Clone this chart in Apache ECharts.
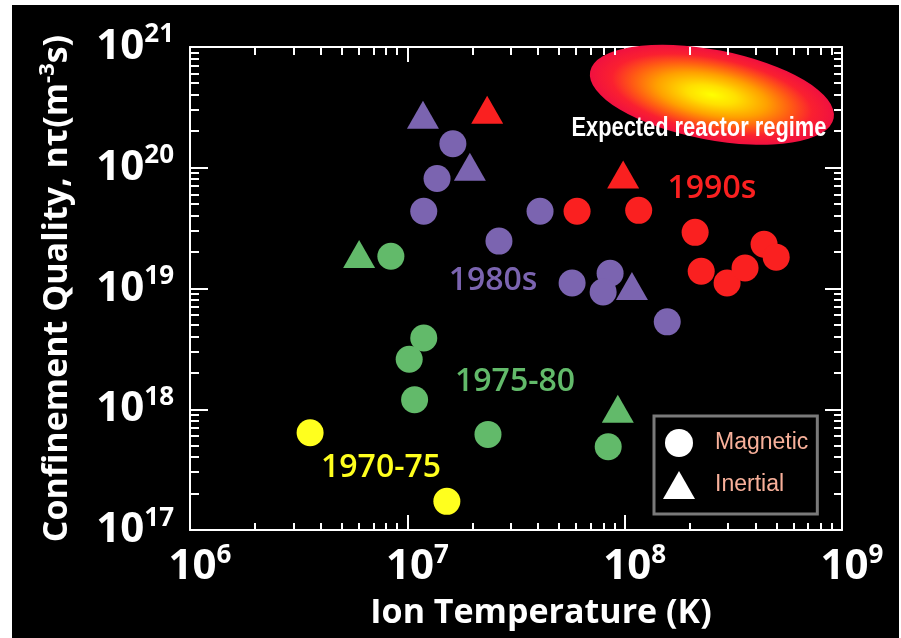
<!DOCTYPE html>
<html><head><meta charset="utf-8">
<script src="https://cdn.jsdelivr.net/npm/echarts@6.0.0/dist/echarts.min.js"></script>
<style>html,body{margin:0;padding:0;background:#fff;overflow:hidden}#c{position:absolute;left:12px;top:5px;width:887px;height:633px}</style>
</head><body><div id="c"></div>
<script>
// ---- data ----
const xTickExponents = [6, 7, 8, 9];
const yTickExponents = [17, 18, 19, 20, 21];
const eras = ['1970-75', '1975-80', '1980s', '1990s'];
// [ion temperature (K), confinement quality nτ (m^-3 s)]
const magnetic1970 = [[3.57e6, 6.4e17], [1.52e7, 1.73e17]];
const inertial1970 = [];
const magnetic1975 = [[8.4e6, 1.85e19], [1.19e7, 3.9e18], [1.02e7, 2.6e18], [1.08e7, 1.2e18], [2.35e7, 6.2e17], [8.4e7, 4.9e17]];
const inertial1975 = [[6.0e6, 1.93e19], [9.3e7, 1.01e18]];
const magnetic1980 = [[1.62e7, 1.58e20], [1.37e7, 8.15e19], [1.19e7, 4.36e19], [4.08e7, 4.36e19], [2.64e7, 2.47e19], [5.73e7, 1.11e19], [8.57e7, 1.34e19], [7.96e7, 9.35e18], [1.57e8, 5.3e18]];
const inertial1980 = [[1.18e7, 2.75e20], [1.94e7, 1.02e20], [1.08e8, 1.05e19]];
const magnetic1990 = [[6.04e7, 4.36e19], [1.16e8, 4.44e19], [2.11e8, 2.92e19], [2.25e8, 1.39e19], [2.96e8, 1.11e19], [3.58e8, 1.48e19], [4.38e8, 2.33e19], [4.98e8, 1.82e19]];
const inertial1990 = [[2.33e7, 3.02e20], [9.84e7, 8.8e19]];
const eraLabelPoints = [[7.57e6, 3.25e17], [3.13e7, 1.69e18], [2.48e7, 1.15e19], [2.52e8, 6.74e19]];
const reactorRegimeCenter = [2.52e8, 4.02e20];
const reactorRegimeText = 'Expected reactor regime';

// ---- styles ----
const eraColors = ['#ffff1e', '#62ba6a', '#7b64b0', '#fa2020'];
const magneticByEra = [magnetic1970, magnetic1975, magnetic1980, magnetic1990];
const inertialByEra = [inertial1970, inertial1975, inertial1980, inertial1990];
const FONT = "'Open Sans', 'DejaVu Sans', sans-serif";
const NARROW = "'Liberation Sans', 'DejaVu Sans', sans-serif";

function colored(groups) {
  const out = [];
  groups.forEach((arr, i) => arr.forEach(p => out.push({ value: p, itemStyle: { color: eraColors[i] } })));
  return out;
}
function minorValues(exps) {
  const out = [];
  for (let e = exps[0]; e < exps[exps.length - 1]; e++)
    for (let k = 2; k <= 9; k++) out.push(k * Math.pow(10, e));
  return out;
}
const xMin = Math.pow(10, xTickExponents[0]), xMax = Math.pow(10, xTickExponents[xTickExponents.length - 1]);
const yMin = Math.pow(10, yTickExponents[0]), yMax = Math.pow(10, yTickExponents[yTickExponents.length - 1]);

const supLabel = (exps) => (v) => {
  const e = Math.round(Math.log10(v));
  return exps.indexOf(e) >= 0 ? '{b|10}{s|' + e + '}' : '';
};
const labelRich = {
  b: { fontSize: 42, fontWeight: 'bold', fontFamily: FONT, color: '#fff', lineHeight: 50 },
  s: { fontSize: 26, fontWeight: 'bold', fontFamily: FONT, color: '#fff', lineHeight: 26, verticalAlign: 'top' }
};
const white = { color: '#fff', width: 2 };
const tickLine = (x1, y1, x2, y2) => ({ type: 'line', shape: { x1, y1, x2, y2 }, style: { stroke: '#fff', lineWidth: 2 } });

const chart = echarts.init(document.getElementById('c'), null, { renderer: 'canvas' });
chart.setOption({
  animation: false,
  backgroundColor: '#000',
  grid: { left: 178, top: 42, right: 57, bottom: 106 },
  legend: {
    orient: 'vertical', left: 642, top: 411,
    padding: [13, 9, 15, 9], itemWidth: 32, itemHeight: 28, itemGap: 14,
    borderColor: '#7a7a7a', borderWidth: 3,
    textStyle: { color: '#f8b09a', fontSize: 23, fontFamily: NARROW, padding: [0, 0, 0, 15] },
    data: [
      { name: 'Magnetic', icon: 'circle', itemStyle: { color: '#fff' } },
      { name: 'Inertial', icon: 'triangle', itemStyle: { color: '#fff' } }
    ]
  },
  xAxis: [
    { type: 'log', logBase: 10, min: xMin, max: xMax, position: 'bottom',
      name: 'Ion Temperature (K)', nameLocation: 'middle', nameGap: 62,
      nameTextStyle: { color: '#fff', fontSize: 34, fontWeight: 'bold', fontFamily: FONT, lineHeight: 40, padding: [0, 0, 0, 50] },
      axisLine: { onZero: false, lineStyle: white },
      axisTick: { inside: true, length: 15, lineStyle: white },
      axisLabel: { margin: 12, formatter: supLabel(xTickExponents), rich: labelRich, align: 'center', padding: [0, 0, 0, 20] },
      splitLine: { show: false } },
    { type: 'log', logBase: 10, min: xMin, max: xMax, position: 'top',
      axisLine: { onZero: false, lineStyle: white },
      axisTick: { inside: true, length: 15, lineStyle: white },
      axisLabel: { show: false }, splitLine: { show: false } }
  ],
  yAxis: [
    { type: 'log', logBase: 10, min: yMin, max: yMax, position: 'left',
      name: 'Confinement Quality, nτ(m{sup|-3}s)', nameLocation: 'middle', nameRotate: 90, nameGap: 113,
      nameTextStyle: { color: '#fff', fontSize: 34, fontWeight: 'bold', fontFamily: FONT, lineHeight: 40,
        rich: { sup: { color: '#fff', fontSize: 22, fontWeight: 'bold', fontFamily: FONT, lineHeight: 22, verticalAlign: 'top' } } },
      axisLine: { onZero: false, lineStyle: white },
      axisTick: { inside: true, length: 18, lineStyle: white },
      axisLabel: { margin: 16, formatter: supLabel(yTickExponents), rich: labelRich },
      splitLine: { show: false } },
    { type: 'log', logBase: 10, min: yMin, max: yMax, position: 'right',
      axisLine: { onZero: false, lineStyle: white },
      axisTick: { inside: true, length: 17, lineStyle: white },
      axisLabel: { show: false }, splitLine: { show: false } }
  ],
  series: [
    { type: 'custom', name: 'regime', z: 1, silent: true,
      data: [reactorRegimeCenter],
      renderItem: (params, api) => {
        const p = api.coord([api.value(0), api.value(1)]);
        return { type: 'group', children: [
          { type: 'circle', shape: { cx: 0, cy: 0, r: 45 }, x: p[0], y: p[1], scaleX: 124 / 45, rotation: -0.19,
            style: { fill: new echarts.graphic.RadialGradient(0.5, 0.5, 0.5, [
              { offset: 0, color: '#ffff00' }, { offset: 0.2, color: '#ffe000' },
              { offset: 0.45, color: '#ffa000' }, { offset: 0.65, color: '#ff5a14' },
              { offset: 0.82, color: '#fa2030' }, { offset: 1, color: '#f01040' }]) } },
          { type: 'text', x: p[0] - 13, y: p[1] + 33, scaleX: 0.78,
            style: { text: reactorRegimeText, fill: '#fff', fontSize: 28, fontWeight: 'bold', fontFamily: NARROW,
              align: 'center', verticalAlign: 'middle',
              textShadowColor: '#444', textShadowOffsetX: 2, textShadowOffsetY: 2, textShadowBlur: 0 } }
        ] };
      } },
    { type: 'custom', name: 'xMinorTicks', z: 3, silent: true,
      data: minorValues(xTickExponents).map(v => [v, yMin]),
      renderItem: (params, api) => {
        const cs = params.coordSys;
        const px = Math.round(api.coord([api.value(0), api.value(1)])[0]);
        return { type: 'group', children: [
          tickLine(px, cs.y + cs.height, px, cs.y + cs.height - 7),
          tickLine(px, cs.y, px, cs.y + 8)
        ] };
      } },
    { type: 'custom', name: 'yMinorTicks', z: 3, silent: true,
      data: minorValues(yTickExponents).map(v => [xMin, v]),
      renderItem: (params, api) => {
        const cs = params.coordSys;
        const py = Math.round(api.coord([api.value(0), api.value(1)])[1]);
        return { type: 'group', children: [
          tickLine(cs.x, py, cs.x + 9, py),
          tickLine(cs.x + cs.width, py, cs.x + cs.width - 8, py)
        ] };
      } },
    { name: 'Magnetic', type: 'scatter', symbol: 'circle', symbolSize: 27, z: 4,
      itemStyle: { opacity: 1 }, data: colored(magneticByEra) },
    { name: 'Inertial', type: 'scatter', symbol: 'triangle', symbolSize: [32, 28], z: 4,
      itemStyle: { opacity: 1 }, data: colored(inertialByEra) },
    { name: 'eras', type: 'scatter', symbolSize: 0, silent: true, z: 4, itemStyle: { opacity: 1 },
      label: { show: true, position: 'inside', formatter: '{b}', fontSize: 32, fontWeight: 600, fontFamily: FONT },
      data: eras.map((t, i) => ({ name: t, value: eraLabelPoints[i], label: { color: eraColors[i] } })) }
  ]
});
</script></body></html>
